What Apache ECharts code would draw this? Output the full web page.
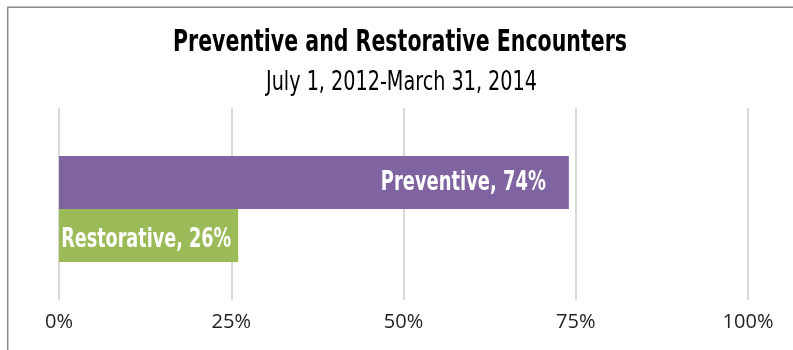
<!DOCTYPE html>
<html>
<head>
<meta charset="utf-8">
<style>
  html, body { margin: 0; padding: 0; background: #ffffff; }
  #chart { width: 793px; height: 350px; }
</style>
<script src="https://cdn.jsdelivr.net/npm/echarts@6/dist/echarts.min.js"></script>
</head>
<body>
<div id="chart"></div>
<script>
// Encounter types and their share of all encounters
const categories = ['Preventive', 'Restorative'];
const shares = [0.74, 0.26];
const barColors = ['#8064A2', '#9BBB59'];

// Percent axis
const axisMin = 0;
const axisMax = 1;
const axisStep = 0.25;

const titleText = 'Preventive and Restorative Encounters';
const subtitleText = 'July 1, 2012-March 31, 2014';

const narrowFont = '"Liberation Sans Narrow", "DejaVu Sans Condensed", "Arial Narrow", sans-serif';

// Squeeze a string horizontally so it spans the wanted width (condensed look)
const measureCtx = document.createElement('canvas').getContext('2d');
function squeeze(text, font, wantedWidth) {
  measureCtx.font = font;
  const w = measureCtx.measureText(text).width;
  return w > 0 ? wantedWidth / w : 1;
}

const titleFont = 'bold 30px ' + narrowFont;
const subtitleFont = 'normal 27px ' + narrowFont;
const barLabelFont = 'bold 27px ' + narrowFont;

const labelText = i => categories[i] + ', ' + Math.round(shares[i] * 100) + '%';
// gap between label end and bar end, and vertical nudge, per bar
const labelGap = [23, 7];
const labelNudge = [0, 4];
const labelWidths = [165, 170];

const chart = echarts.init(document.getElementById('chart'), null, { renderer: 'canvas' });

chart.setOption({
  animation: false,
  backgroundColor: '#ffffff',
  graphic: [
    {
      type: 'rect',
      silent: true,
      shape: { x: 7.7, y: 7.2, width: 1200, height: 1200 },
      style: { fill: 'none', stroke: '#8a8a8a', lineWidth: 1.5 }
    },
    {
      type: 'text',
      silent: true,
      x: 400,
      y: 43,
      scaleX: squeeze(titleText, titleFont, 454),
      style: {
        text: titleText,
        font: titleFont,
        fill: '#000000',
        align: 'center',
        verticalAlign: 'middle'
      }
    },
    {
      type: 'text',
      silent: true,
      x: 401.5,
      y: 83,
      scaleX: squeeze(subtitleText, subtitleFont, 271),
      style: {
        text: subtitleText,
        font: subtitleFont,
        fill: '#000000',
        align: 'center',
        verticalAlign: 'middle'
      }
    }
  ],
  grid: [
    // bar band
    { left: 59, right: 45, top: 156, height: 106, containLabel: false },
    // gridlines and percent labels
    { left: 59, right: 45, top: 108, height: 192, containLabel: false }
  ],
  xAxis: [
    {
      gridIndex: 0,
      type: 'value',
      min: axisMin,
      max: axisMax,
      interval: axisStep,
      show: false
    },
    {
      gridIndex: 1,
      type: 'value',
      min: axisMin,
      max: axisMax,
      interval: axisStep,
      axisLine: { show: false },
      axisTick: { show: false },
      splitLine: { show: true, lineStyle: { color: '#d9d9d9', width: 2 } },
      axisLabel: {
        margin: 12,
        fontFamily: '"Open Sans", "Noto Sans", sans-serif',
        fontSize: 20,
        color: '#1f1f1f',
        formatter: v => Math.round(v * 100) + '%'
      }
    }
  ],
  yAxis: [
    {
      gridIndex: 0,
      type: 'category',
      data: categories,
      inverse: true,
      show: false
    },
    {
      gridIndex: 1,
      type: 'category',
      data: [''],
      show: false
    }
  ],
  series: [
    {
      type: 'bar',
      xAxisIndex: 0,
      yAxisIndex: 0,
      barCategoryGap: 0,
      data: categories.map((name, i) => ({
        value: shares[i],
        itemStyle: { color: barColors[i] }
      }))
    },
    {
      // value labels placed at the bar ends through the axes
      type: 'custom',
      xAxisIndex: 0,
      yAxisIndex: 0,
      silent: true,
      z: 5,
      data: categories.map((name, i) => [shares[i], i]),
      renderItem: (params, api) => {
        const i = params.dataIndex;
        const end = api.coord([api.value(0), api.value(1)]);
        const text = labelText(i);
        return {
          type: 'text',
          x: end[0] - labelGap[i],
          y: end[1] + labelNudge[i],
          scaleX: squeeze(text, barLabelFont, labelWidths[i]),
          style: {
            text: text,
            font: barLabelFont,
            fill: '#ffffff',
            align: 'right',
            verticalAlign: 'middle'
          }
        };
      }
    }
  ]
});
</script>
</body>
</html>
